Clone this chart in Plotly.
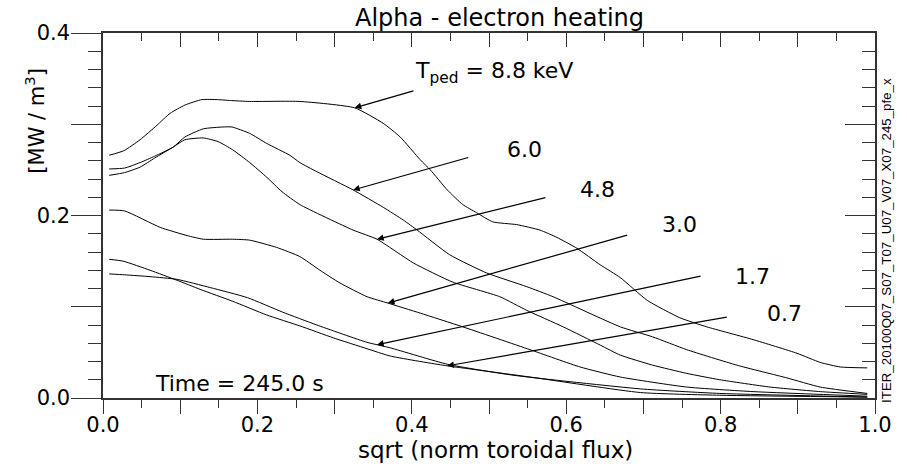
import numpy as np
import plotly.graph_objects as go

# ---- data (x = sqrt(norm toroidal flux), y = MW/m^3) ----
x_88 = [0.008, 0.027, 0.048, 0.070, 0.087, 0.106, 0.128, 0.148, 0.165, 0.190, 0.255, 0.326, 0.363, 0.385,
        0.411, 0.424, 0.446, 0.466, 0.484, 0.505, 0.536, 0.566, 0.588, 0.614, 0.644, 0.670, 0.705, 0.747,
        0.782, 0.842, 0.899, 0.929, 0.955, 0.990]
y_88 = [0.266, 0.271, 0.283, 0.299, 0.312, 0.321, 0.327, 0.327, 0.326, 0.325, 0.325, 0.318, 0.301, 0.286,
        0.261, 0.250, 0.228, 0.212, 0.203, 0.193, 0.190, 0.184, 0.176, 0.164, 0.146, 0.132, 0.107, 0.088,
        0.078, 0.064, 0.049, 0.039, 0.034, 0.033]

x_60 = [0.008, 0.028, 0.048, 0.067, 0.091, 0.106, 0.130, 0.155, 0.167, 0.190, 0.212, 0.242, 0.255, 0.277,
        0.324, 0.363, 0.389, 0.407, 0.449, 0.497, 0.549, 0.583, 0.670, 0.712, 0.756, 0.821, 0.886, 0.929, 0.990]
y_60 = [0.251, 0.252, 0.258, 0.265, 0.275, 0.286, 0.295, 0.297, 0.297, 0.290, 0.279, 0.266, 0.258, 0.248,
        0.228, 0.209, 0.195, 0.184, 0.157, 0.137, 0.122, 0.111, 0.078, 0.067, 0.053, 0.036, 0.022, 0.012, 0.005]

x_48 = [0.008, 0.028, 0.048, 0.067, 0.091, 0.106, 0.130, 0.149, 0.168, 0.190, 0.212, 0.232, 0.255, 0.324,
        0.355, 0.402, 0.453, 0.514, 0.549, 0.596, 0.644, 0.670, 0.712, 0.756, 0.799, 0.864, 0.929, 0.990]
y_48 = [0.244, 0.247, 0.253, 0.263, 0.275, 0.283, 0.285, 0.281, 0.272, 0.258, 0.242, 0.226, 0.212, 0.184,
        0.174, 0.148, 0.127, 0.111, 0.096, 0.078, 0.058, 0.047, 0.036, 0.027, 0.020, 0.012, 0.007, 0.004]

x_30 = [0.008, 0.028, 0.074, 0.109, 0.130, 0.168, 0.190, 0.225, 0.255, 0.281, 0.307, 0.342, 0.369, 0.411,
        0.466, 0.553, 0.618, 0.670, 0.756, 0.842, 0.990]
y_30 = [0.206, 0.205, 0.187, 0.178, 0.174, 0.174, 0.173, 0.165, 0.155, 0.140, 0.126, 0.111, 0.104, 0.093,
        0.078, 0.053, 0.034, 0.023, 0.012, 0.007, 0.002]

x_07 = [0.008, 0.026, 0.061, 0.096, 0.126, 0.168, 0.212, 0.255, 0.298, 0.342, 0.372, 0.440, 0.553, 0.696,
        0.799, 0.990]
y_07 = [0.152, 0.150, 0.140, 0.129, 0.119, 0.106, 0.091, 0.079, 0.066, 0.054, 0.046, 0.036, 0.023, 0.006,
        0.003, 0.001]

x_17 = [0.008, 0.028, 0.061, 0.096, 0.139, 0.187, 0.233, 0.277, 0.342, 0.372, 0.446, 0.531, 0.696, 0.799, 0.990]
y_17 = [0.136, 0.135, 0.133, 0.130, 0.121, 0.110, 0.094, 0.080, 0.061, 0.055, 0.037, 0.025, 0.010, 0.005, 0.001]

x_ticks = [0.0, 0.1, 0.2, 0.3, 0.4, 0.5, 0.6, 0.7, 0.8, 0.9, 1.0]
x_ticktext = ["0.0", "", "0.2", "", "0.4", "", "0.6", "", "0.8", "", "1.0"]
y_ticks = [0.0, 0.1, 0.2, 0.3, 0.4]
y_ticktext = ["0.0", "", "0.2", "", "0.4"]

labels = ["T<sub>ped</sub> = 8.8 keV", "6.0", "4.8", "3.0", "1.7", "0.7"]

FONT = "DejaVu Sans"
INK = "black"
AX = "#333333"

curves = [(x_88, y_88), (x_60, y_60), (x_48, y_48), (x_30, y_30), (x_17, y_17), (x_07, y_07)]

fig = go.Figure()
for i, (xs, ys) in enumerate(curves):
    kw = dict(xaxis="x2", yaxis="y2") if i == 0 else {}
    fig.add_trace(go.Scatter(x=xs, y=ys, mode="lines",
                             line=dict(color=INK, width=1, shape="spline", smoothing=0.5),
                             showlegend=False, hoverinfo="skip", **kw))

# arrows: head x position on each curve, tail position (data coords), label position
arrow_head_x = [0.326, 0.324, 0.355, 0.369, 0.355, 0.446]
arrow_tail = [(0.404, 0.337), (0.475, 0.264), (0.575, 0.220), (0.681, 0.179), (0.776, 0.134), (0.810, 0.089)]
label_pos = [(0.401, 0.357), (0.521, 0.272), (0.615, 0.228), (0.722, 0.190), (0.816, 0.133), (0.858, 0.093)]

annotations = []
for (xs, ys), hx, (tx, ty), (lx, ly), lab in zip(curves, arrow_head_x, arrow_tail, label_pos, labels):
    hy = float(np.interp(hx, xs, ys))
    annotations.append(dict(x=hx, y=hy, ax=tx, ay=ty, xref="x", yref="y", axref="x", ayref="y",
                            text="", showarrow=True, arrowhead=2, arrowsize=1.1, arrowwidth=1.2,
                            arrowcolor=INK, standoff=0, startstandoff=0))
    annotations.append(dict(x=lx, y=ly, xref="x", yref="y", text=lab, showarrow=False,
                            xanchor="left", yanchor="middle",
                            font=dict(family=FONT, size=22, color=INK)))

annotations += [
    dict(x=0.513, y=1.042, xref="paper", yref="paper", text="Alpha - electron heating", showarrow=False,
         xanchor="center", yanchor="middle", font=dict(family=FONT, size=24, color=INK)),
    dict(x=0.509, y=-0.143, xref="paper", yref="paper", text="sqrt (norm toroidal flux)", showarrow=False,
         xanchor="center", yanchor="middle", font=dict(family=FONT, size=23, color=INK)),
    dict(x=-0.088, y=0.76, xref="paper", yref="paper", text="[MW / m<sup>3</sup>]", showarrow=False,
         textangle=-90, xanchor="center", yanchor="middle", font=dict(family=FONT, size=21, color=INK)),
    dict(x=1.0155, y=0.433, xref="paper", yref="paper", text="ITER_20100Q07_S07_T07_U07_V07_X07_245_pfe_x",
         showarrow=False, textangle=-90, xanchor="center", yanchor="middle",
         font=dict(family="Liberation Sans Narrow, Liberation Sans", size=13.3, color=INK)),
    dict(x=0.065, y=0.016, xref="x", yref="y", text="Time = 245.0 s", showarrow=False,
         xanchor="left", yanchor="middle", font=dict(family=FONT, size=22, color=INK)),
]

common = dict(showgrid=False, zeroline=False, showline=True, linecolor=AX, linewidth=1.5,
              tickcolor=AX, tickwidth=1.2)

fig.update_layout(
    width=907, height=466,
    margin=dict(l=103, r=32, t=33, b=68),
    paper_bgcolor="white", plot_bgcolor="white",
    font=dict(family=FONT, size=21, color=INK),
    xaxis=dict(range=[0, 1], tickmode="array", tickvals=x_ticks, ticktext=x_ticktext,
               ticks="outside", ticklen=14, ticklabelstandoff=-7,
               minor=dict(tickmode="linear", tick0=0, dtick=0.05, ticks="outside", ticklen=8,
                          tickcolor=AX, tickwidth=1.2),
               tickfont=dict(family=FONT, size=21, color=INK), **common),
    yaxis=dict(range=[0, 0.4], tickmode="array", tickvals=y_ticks, ticktext=y_ticktext,
               ticks="outside", ticklen=30, ticklabelstandoff=-3,
               minor=dict(tickmode="linear", tick0=0, dtick=0.02, ticks="outside", ticklen=13,
                          tickcolor=AX, tickwidth=1.2),
               tickfont=dict(family=FONT, size=21, color=INK), **common),
    xaxis2=dict(range=[0, 1], overlaying="x", side="top", anchor="y2", tickmode="array", tickvals=x_ticks,
                showticklabels=False, ticks="inside", ticklen=14,
                minor=dict(tickmode="linear", tick0=0, dtick=0.05, ticks="inside", ticklen=8,
                           tickcolor=AX, tickwidth=1.2), **common),
    yaxis2=dict(range=[0, 0.4], overlaying="y", side="right", anchor="x2", tickmode="array", tickvals=y_ticks,
                showticklabels=False, ticks="inside", ticklen=30,
                minor=dict(tickmode="linear", tick0=0, dtick=0.02, ticks="inside", ticklen=13,
                           tickcolor=AX, tickwidth=1.2), **common),
    annotations=annotations,
)

fig.write_html("out.html")
